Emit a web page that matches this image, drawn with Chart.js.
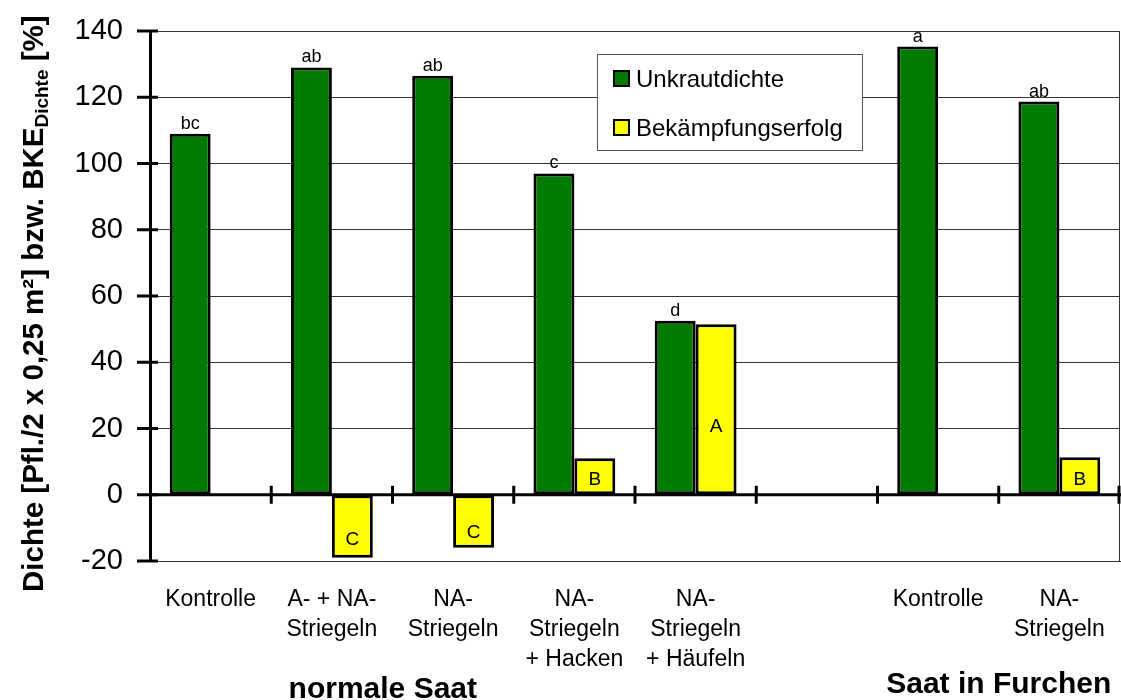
<!DOCTYPE html>
<html>
<head>
<meta charset="utf-8">
<script src="https://cdn.jsdelivr.net/npm/chart.js@4"></script>
<style>
  body { margin: 0; background: #fff; }
  #wrap { width: 1121px; height: 700px; }
</style>
</head>
<body>
<div id="wrap"><canvas id="chart"></canvas></div>
<script>
// Categories (multi-line tick labels), one empty slot between the two groups
const categories = [
    ['Kontrolle'],
    ['A- + NA-', 'Striegeln'],
    ['NA-', 'Striegeln'],
    ['NA-', 'Striegeln', '+ Hacken'],
    ['NA-', 'Striegeln', '+ Häufeln'],
    [''],
    ['Kontrolle'],
    ['NA-', 'Striegeln']
];
const dichte = [109, 129, 126.5, 97, 52.5, null, 135.3, 118.7];   // Unkrautdichte
const erfolg = [null, -19, -16, 11, 51.5, null, null, 11.3];      // Bekämpfungserfolg
const dichteLetters = ['bc', 'ab', 'ab', 'c', 'd', '', 'a', 'ab'];
const erfolgLetters = ['', 'C', 'C', 'B', 'A', '', '', 'B'];
const yTicks = [-20, 0, 20, 40, 60, 80, 100, 120, 140];
const groupNames = ['normale Saat', 'Saat in Furchen'];
const groupCenters = [1.42, 6.5];   // in category units

const FONT = '"Liberation Sans", Arial, sans-serif';
const GREEN = '#007A00';
const YELLOW = '#FFFF00';

// Draws frame, zero line with crossing ticks, letters, legend, titles
const decor = {
    id: 'decor',
    afterDatasetsDraw(chart) {
        const ctx = chart.ctx;
        const area = chart.chartArea;
        const x = chart.scales.x;
        const y = chart.scales.y;
        const slot = x.getPixelForValue(1) - x.getPixelForValue(0);
        ctx.save();

        // right frame line
        ctx.strokeStyle = '#333';
        ctx.lineWidth = 1;
        ctx.beginPath();
        ctx.moveTo(area.right - 0.5, area.top);
        ctx.lineTo(area.right - 0.5, area.bottom);
        ctx.stroke();

        // zero line
        const y0 = y.getPixelForValue(0);
        ctx.strokeStyle = '#000';
        ctx.lineWidth = 3;
        ctx.beginPath();
        ctx.moveTo(area.left, y0);
        ctx.lineTo(area.right + 1, y0);
        ctx.stroke();

        // category boundary ticks on the zero line
        for (let i = 1; i <= categories.length; i++) {
            const bx = Math.min(x.getPixelForValue(i - 1) + slot / 2, area.right - 1);
            ctx.beginPath();
            ctx.moveTo(bx, y0 - 9);
            ctx.lineTo(bx, y0 + 9);
            ctx.stroke();
        }

        // y ticks crossing the axis
        yTicks.forEach(v => {
            const py = y.getPixelForValue(v);
            ctx.beginPath();
            ctx.moveTo(area.left - 13, py);
            ctx.lineTo(area.left + 8, py);
            ctx.stroke();
        });

        // significance letters above green bars
        ctx.fillStyle = '#000';
        ctx.textAlign = 'center';
        ctx.textBaseline = 'alphabetic';
        ctx.font = '18px ' + FONT;
        const m0 = chart.getDatasetMeta(0);
        dichte.forEach((v, i) => {
            if (v === null || !dichteLetters[i]) return;
            const bar = m0.data[i];
            ctx.fillText(dichteLetters[i], bar.x, y.getPixelForValue(v) - 5);
        });

        // letters inside yellow bars
        ctx.font = '19px ' + FONT;
        ctx.textBaseline = 'middle';
        const m1 = chart.getDatasetMeta(1);
        erfolg.forEach((v, i) => {
            if (v === null || !erfolgLetters[i]) return;
            const bar = m1.data[i];
            const pos = v > 0 ? v * 0.4 : v * 0.72;
            ctx.fillText(erfolgLetters[i], bar.x, y.getPixelForValue(pos));
        });

        // legend box
        const lx = 597, ly = 54, lw = 265, lh = 96;
        ctx.fillStyle = '#fff';
        ctx.fillRect(lx, ly, lw, lh);
        ctx.strokeStyle = '#555';
        ctx.lineWidth = 1;
        ctx.strokeRect(lx + 0.5, ly + 0.5, lw, lh);
        const legendItems = chart.data.datasets.map(d => ({ label: d.label, color: d.backgroundColor }));
        legendItems.forEach((item, k) => {
            const cy = 79 + k * 49;
            ctx.fillStyle = item.color;
            ctx.fillRect(614, cy - 8, 15, 15);
            ctx.strokeStyle = '#000';
            ctx.lineWidth = 2;
            ctx.strokeRect(614, cy - 8, 15, 15);
            ctx.fillStyle = '#000';
            ctx.font = '24px ' + FONT;
            ctx.textAlign = 'left';
            ctx.textBaseline = 'middle';
            ctx.fillText(item.label, 636, cy + 1);
        });

        // group labels under the categories
        ctx.font = 'bold 30px ' + FONT;
        ctx.textAlign = 'center';
        ctx.textBaseline = 'alphabetic';
        groupNames.forEach((name, k) => {
            const cx = x.getPixelForValue(0) + groupCenters[k] * slot;
            ctx.fillText(name, cx, k === 0 ? 698 : 693);
        });

        // rotated y title with subscript
        ctx.translate(43, 592);
        ctx.rotate(-Math.PI / 2);
        ctx.textAlign = 'left';
        ctx.font = 'bold 29.5px ' + FONT;
        const part1 = 'Dichte [Pfl./2 x 0,25 m²] bzw. BKE';
        ctx.fillText(part1, 0, 0);
        let off = ctx.measureText(part1).width;
        ctx.font = 'bold 19px ' + FONT;
        ctx.fillText('Dichte', off, 5);
        off += ctx.measureText('Dichte').width;
        ctx.font = 'bold 29.5px ' + FONT;
        ctx.fillText(' [%]', off, 0);

        ctx.restore();
    }
};

new Chart(document.getElementById('chart'), {
    type: 'bar',
    data: {
        labels: categories,
        datasets: [
            {
                label: 'Unkrautdichte',
                data: dichte,
                backgroundColor: GREEN,
                borderColor: '#000',
                borderWidth: 3,
                borderSkipped: false
            },
            {
                label: 'Bekämpfungserfolg',
                data: erfolg,
                backgroundColor: YELLOW,
                borderColor: '#000',
                borderWidth: 3,
                borderSkipped: false
            }
        ]
    },
    options: {
        responsive: true,
        maintainAspectRatio: false,
        animation: false,
        layout: { padding: { top: 31, right: 1, left: 0, bottom: 0 } },
        plugins: {
            legend: { display: false },
            tooltip: { enabled: false }
        },
        datasets: {
            bar: { categoryPercentage: 0.675, barPercentage: 1 }
        },
        scales: {
            x: {
                grid: { display: false, drawTicks: false },
                border: { display: true, color: '#333', width: 1 },
                ticks: {
                    color: '#000',
                    font: { family: FONT, size: 23, lineHeight: 1.3 },
                    padding: 24,
                    maxRotation: 0,
                    autoSkip: false
                },
                afterFit: scale => {
                    scale.height = 139;
                    scale.paddingLeft = 0;
                    scale.paddingRight = 0;
                }
            },
            y: {
                min: -20,
                max: 140,
                grid: { color: '#333', lineWidth: 1, drawTicks: false },
                border: { display: true, color: '#000', width: 3 },
                ticks: {
                    stepSize: 20,
                    color: '#000',
                    font: { family: FONT, size: 29 },
                    padding: 27
                },
                afterFit: scale => {
                    scale.width = 150;
                    scale.paddingTop = 0;
                    scale.paddingBottom = 0;
                }
            }
        }
    },
    plugins: [decor]
});
</script>
</body>
</html>
